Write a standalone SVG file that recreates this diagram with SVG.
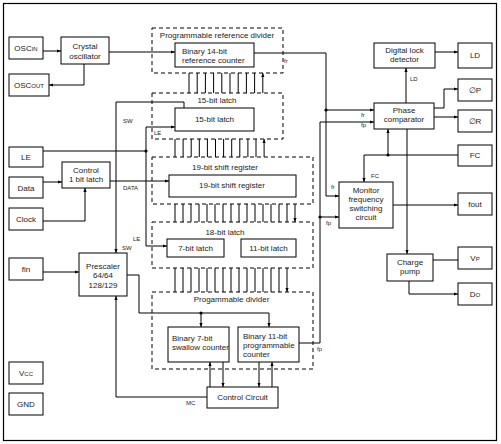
<svg xmlns="http://www.w3.org/2000/svg" width="501" height="444" viewBox="0 0 501 444">
<style>
text{font-family:"Liberation Sans",Arial,sans-serif;font-size:8px;fill:#222}
.c{text-anchor:middle}
.l{font-size:6px}
.s{font-size:6px}
.box{fill:#fff;stroke:#000;stroke-width:1}
.dash{fill:none;stroke:#000;stroke-width:1;stroke-dasharray:4 3}
.w{fill:none;stroke:#000;stroke-width:1}
.a{marker-end:url(#ah)}
.dot{fill:#000}
</style>
<defs>
<marker id="ah" viewBox="0 0 4 4" markerWidth="4" markerHeight="4" markerUnits="userSpaceOnUse" refX="4" refY="2" orient="auto">
<path d="M0,0.4 L4,2 L0,3.6 z" fill="#000"/>
</marker>
</defs>
<rect x="3.5" y="3.5" width="493" height="437" fill="#fff" stroke="#000" stroke-width="1.2"/>

<g id="connectors">
<path class="w a" d="M43,51H61"/>
<path class="w a" d="M109,52H175"/>
<path class="w a" d="M84,64V85H49"/>
<path class="w a" d="M254,53H326V196H339"/>
<path class="w a" d="M326,110H374"/>
<circle class="dot" cx="326" cy="110" r="1.6"/>
<path class="w a" d="M299,343H320V122H374"/>
<path class="w a" d="M320,217H339"/>
<circle class="dot" cx="320" cy="217" r="1.6"/>
<path class="w a" d="M406,103V68"/>
<path class="w a" d="M435,52H458"/>
<path class="w a" d="M434,108H444V89H458"/>
<path class="w a" d="M434,117H458"/>
<path class="w a" d="M458,155H364V182"/>
<path class="w a" d="M388,155V129"/>
<circle class="dot" cx="388" cy="155" r="1.6"/>
<path class="w a" d="M407,129V254"/>
<path class="w a" d="M393,205H458"/>
<path class="w" d="M433,260H458"/>
<path class="w a" d="M409,281V294H458"/>
<path class="w" d="M43,151H146"/>
<path class="w a" d="M146,151V127H175"/>
<path class="w a" d="M146,151V246H167"/>
<circle class="dot" cx="146" cy="151" r="1.6"/>
<path class="w a" d="M184,108V102H116V253"/>
<path class="w a" d="M43,182H62"/>
<path class="w a" d="M43,221H85V188"/>
<path class="w a" d="M110,181H169"/>
<path class="w a" d="M43,272H79"/>
<path class="w a" d="M127,275H139V313H269V327"/>
<path class="w a" d="M201,313V327"/>
<circle class="dot" cx="201" cy="313" r="1.6"/>
<path class="w a" d="M207,397H116V296"/>
<path class="w a" d="M210,387V362"/>
<path class="w a" d="M223,362V387"/>
<path class="w a" d="M259,362V387"/>
<path class="w a" d="M272,387V362"/>
<!-- bus: 15-bit latch -> reference counter -->
<path class="w a" d="M189,93V73M197.2,93V73M205.4,93V73M213.6,93V73M221.8,93V73M230,93V73M238.2,93V73M246.4,93V73M254.6,93V73M262.8,93V73"/>
<!-- bus: shift register -> 15-bit latch -->
<path class="w a" d="M175,157V139M183.1,157V139M191.2,157V139M199.3,157V139M207.4,157V139M215.5,157V139M223.6,157V139M231.7,157V139M239.8,157V139M247.9,157V139M256,157V139M264.1,157V139"/>
<!-- bus: shift register -> 18-bit latch -->
<path class="w a" d="M175,204V222M183,204V222M191,204V222M199,204V222M207,204V222M215,204V222M223,204V222M231,204V222M239,204V222M247,204V222M255,204V222M263,204V222M271,204V222M279,204V222M287,204V222M295,204V222"/>
<!-- bus: 18-bit latch -> programmable divider -->
<path class="w a" d="M175,268V292M183,268V292M191,268V292M199,268V292M207,268V292M215,268V292M223,268V292M231,268V292M239,268V292M247,268V292M255,268V292M263,268V292M271,268V292M279,268V292M287,268V292"/>
<text class="l" x="284" y="63">fr</text>
<text class="l" x="361" y="117">fr</text>
<text class="l" x="361" y="127">fp</text>
<text class="l" x="410" y="81">LD</text>
<text class="l" x="371" y="178">FC</text>
<text class="l" x="331" y="189">fr</text>
<text class="l" x="326" y="225">fp</text>
<text class="l" x="317" y="351">fp</text>
<text class="l" x="123" y="123">SW</text>
<text class="l" x="154" y="135">LE</text>
<text class="l" x="123" y="190">DATA</text>
<text class="l" x="133" y="241">LE</text>
<text class="l" x="122" y="250">SW</text>
<text class="l" x="186" y="405">MC</text>
</g>

<g id="oscin"><rect class="box" x="9" y="37" width="34" height="22"/><text class="c" x="26" y="51">OSC<tspan class="s">IN</tspan></text></g>
<g id="oscout"><rect class="box" x="9" y="74" width="40" height="22"/><text class="c" x="29" y="88">OSC<tspan class="s">OUT</tspan></text></g>
<g id="crystal"><rect class="box" x="61" y="37" width="48" height="27"/><text class="c" x="85" y="49">Crystal</text><text class="c" x="85" y="59">oscillator</text></g>
<g id="ref-divider"><rect class="dash" x="152" y="28" width="131" height="45"/><text class="c" x="217" y="38">Programmable reference divider</text></g>
<g id="bin14"><rect class="box" x="175" y="43" width="79" height="24"/><text x="182" y="54">Binary 14-bit</text><text x="182" y="63">reference counter</text></g>
<g id="latch15-group"><rect class="dash" x="152" y="93" width="131" height="46"/><text class="c" x="217" y="103">15-bit latch</text></g>
<g id="latch15"><rect class="box" x="175" y="108" width="79" height="23"/><text class="c" x="214.5" y="122">15-bit latch</text></g>
<g id="shift19-group"><rect class="dash" x="152" y="157" width="161" height="47"/><text class="c" x="225" y="170">19-bit shift register</text></g>
<g id="shift19"><rect class="box" x="169" y="175" width="127" height="22"/><text class="c" x="232" y="188">19-bit shift register</text></g>
<g id="latch18-group"><rect class="dash" x="152" y="222" width="161" height="46"/><text class="c" x="225" y="235">18-bit latch</text></g>
<g id="latch7"><rect class="box" x="167" y="239" width="57" height="18"/><text class="c" x="195.5" y="251">7-bit latch</text></g>
<g id="latch11"><rect class="box" x="241" y="239" width="55" height="18"/><text class="c" x="268.5" y="251">11-bit latch</text></g>
<g id="prog-divider"><rect class="dash" x="152" y="292" width="161" height="77"/><text class="c" x="231.5" y="302">Progammable divider</text></g>
<g id="bin7"><rect class="box" x="168" y="327" width="61" height="35"/><text x="172" y="341">Binary 7-bit</text><text x="172" y="350">swallow counter</text></g>
<g id="bin11"><rect class="box" x="238" y="327" width="61" height="35"/><text x="243" y="339">Binary 11-bit</text><text x="243" y="348">programmable</text><text x="243" y="357">counter</text></g>
<g id="control-circuit"><rect class="box" x="207" y="387" width="71" height="21"/><text class="c" x="242.5" y="400">Control Circuit</text></g>
<g id="prescaler"><rect class="box" x="79" y="253" width="48" height="43"/><text class="c" x="103" y="269">Prescaler</text><text class="c" x="103" y="278">64/64</text><text class="c" x="103" y="288">128/129</text></g>
<g id="fin"><rect class="box" x="9" y="258" width="34" height="22"/><text class="c" x="26" y="272">fin</text></g>
<g id="le"><rect class="box" x="9" y="147" width="34" height="20"/><text class="c" x="26" y="160">LE</text></g>
<g id="data"><rect class="box" x="9" y="177" width="34" height="21"/><text class="c" x="26" y="191">Data</text></g>
<g id="clock"><rect class="box" x="9" y="208" width="34" height="22"/><text class="c" x="26" y="222">Clock</text></g>
<g id="control-latch"><rect class="box" x="62" y="162" width="48" height="26"/><text class="c" x="86" y="173">Control</text><text class="c" x="86" y="182">1 bit latch</text></g>
<g id="vcc"><rect class="box" x="9" y="362" width="34" height="22"/><text class="c" x="26" y="376">V<tspan class="s">CC</tspan></text></g>
<g id="gnd"><rect class="box" x="9" y="393" width="34" height="22"/><text class="c" x="26" y="407">GND</text></g>
<g id="lock-detector"><rect class="box" x="374" y="43" width="61" height="25"/><text class="c" x="404.5" y="53">Digital lock</text><text class="c" x="404.5" y="62">detector</text></g>
<g id="ld"><rect class="box" x="458" y="43" width="34" height="25"/><text class="c" x="475" y="58">LD</text></g>
<g id="phase-comparator"><rect class="box" x="374" y="103" width="60" height="26"/><text class="c" x="404" y="113">Phase</text><text class="c" x="404" y="122">comparator</text></g>
<g id="phi-p"><rect class="box" x="458" y="79" width="34" height="22"/><text class="c" x="475" y="93">∅P</text></g>
<g id="phi-r"><rect class="box" x="458" y="110" width="34" height="22"/><text class="c" x="475" y="124">∅R</text></g>
<g id="fc"><rect class="box" x="458" y="145" width="34" height="21"/><text class="c" x="475" y="158">FC</text></g>
<g id="fout"><rect class="box" x="458" y="193" width="34" height="22"/><text class="c" x="475" y="207">fout</text></g>
<g id="vp"><rect class="box" x="458" y="247" width="34" height="22"/><text class="c" x="475" y="261">V<tspan class="s">P</tspan></text></g>
<g id="do"><rect class="box" x="458" y="283" width="34" height="22"/><text class="c" x="475" y="297">D<tspan class="s">O</tspan></text></g>
<g id="monitor"><rect class="box" x="339" y="182" width="54" height="46"/><text class="c" x="366" y="193">Monitor</text><text class="c" x="366" y="202">frequency</text><text class="c" x="366" y="211">switching</text><text class="c" x="366" y="220">circuit</text></g>
<g id="charge-pump"><rect class="box" x="387" y="254" width="46" height="27"/><text class="c" x="410" y="265">Charge</text><text class="c" x="410" y="274">pump</text></g>
</svg>
